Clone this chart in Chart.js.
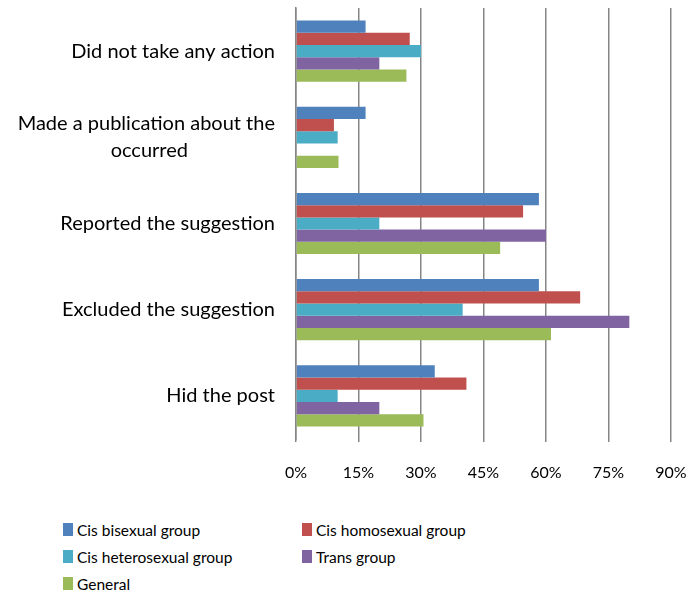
<!DOCTYPE html>
<html>
<head>
<meta charset="utf-8">
<script src="https://cdn.jsdelivr.net/npm/chart.js@4/dist/chart.umd.min.js"></script>
<style>
  body { margin: 0; background: #fff; }
  #wrap { position: relative; width: 694px; height: 596px; font-family: Lato, sans-serif; }
  #chartBox { position: absolute; left: 0; top: 0; width: 694px; height: 500px; }
  #legend { position: absolute; left: 63px; top: 519px; width: 600px;
            display: grid; grid-template-columns: 239px 300px; row-gap: 6px; }
  .item { display: flex; align-items: center; font-size: 15.5px; color: #000; height: 21px; }
  .box { width: 10px; height: 13px; margin-right: 4px; flex: none; }
</style>
</head>
<body>
<div id="wrap">
  <div id="chartBox"><canvas id="chart"></canvas></div>
  <div id="legend"></div>
</div>
<script>
// values (percent)
const categories = [
    'Did not take any action',
    ['Made a publication about the', 'occurred'],
    'Reported the suggestion',
    'Excluded the suggestion',
    'Hid the post'
];
const seriesNames = ['Cis bisexual group', 'Cis homosexual group', 'Cis heterosexual group', 'Trans group', 'General'];
const cisBisexual = [16.7, 16.7, 58.3, 58.3, 33.3];
const cisHomosexual = [27.3, 9.1, 54.5, 68.2, 40.9];
const cisHeterosexual = [30, 10, 20, 40, 10];
const transGroup = [20, 0, 60, 80, 20];
const general = [26.5, 10.2, 49, 61.2, 30.6];
const xTicks = [0, 15, 30, 45, 60, 75, 90];

const colors = ['#4F81BD', '#C0504D', '#4BACC6', '#8064A2', '#9BBB59'];
const allSeries = [cisBisexual, cisHomosexual, cisHeterosexual, transGroup, general];

let datasets = [];
allSeries.forEach((values, i) => {
    datasets.push({
        label: seriesNames[i],
        data: values,
        backgroundColor: colors[i],
        borderWidth: 0,
        categoryPercentage: 0.71,
        barPercentage: 1.0
    });
});

// multi-line category labels: lines are centred on each other, block is right aligned
const yFont = { family: 'Lato, sans-serif', size: 20, lineHeight: 1.35 };
const measureCtx = document.createElement('canvas').getContext('2d');
measureCtx.font = yFont.size + 'px Lato';
const textW = s => measureCtx.measureText(s).width;

function centreLines(label) {
    if (!Array.isArray(label)) return label;
    const widest = Math.max(...label.map(textW));
    return label.map(line => {
        const target = textW(line) + (widest - textW(line)) / 2;
        let s = line;
        while (textW(s + ' ') <= target + 1) s += ' ';
        return s;
    });
}

const config = {
    type: 'bar',
    data: { labels: categories, datasets: datasets },
    options: {
        indexAxis: 'y',
        responsive: true,
        maintainAspectRatio: false,
        animation: false,
        layout: { padding: { top: 8, right: 23, left: 0, bottom: 0 } },
        plugins: {
            legend: { display: false },
            tooltip: { enabled: false }
        },
        scales: {
            x: {
                min: 0,
                max: 90,
                afterBuildTicks: scale => { scale.ticks = xTicks.map(v => ({ value: v })); },
                ticks: {
                    callback: v => v + '%',
                    color: '#000',
                    font: { family: 'Lato, sans-serif', size: 16 },
                    padding: 21,
                    maxRotation: 0
                },
                grid: { color: '#858585', lineWidth: 1.5, tickLength: 3 },
                border: { display: false },
                afterFit: scale => {
                    scale.height = 61;
                    scale.paddingLeft = 0;
                    scale.paddingRight = 0;
                }
            },
            y: {
                ticks: {
                    color: '#000',
                    font: yFont,
                    padding: 21,
                    callback: function (value) { return centreLines(categories[value]); }
                },
                grid: { display: false, drawTicks: false },
                border: { display: true, color: '#858585', width: 1.5 },
                afterFit: scale => {
                    scale.width = 296;
                    scale.paddingTop = 0;
                    scale.paddingBottom = 0;
                }
            }
        }
    }
};

const chart = new Chart(document.getElementById('chart'), config);

// legend in two columns like the original
let html = '';
chart.data.datasets.forEach(ds => {
    html += `<div class="item"><span class="box" style="background:${ds.backgroundColor}"></span>${ds.label}</div>`;
});
document.getElementById('legend').innerHTML = html;
</script>
</body>
</html>
